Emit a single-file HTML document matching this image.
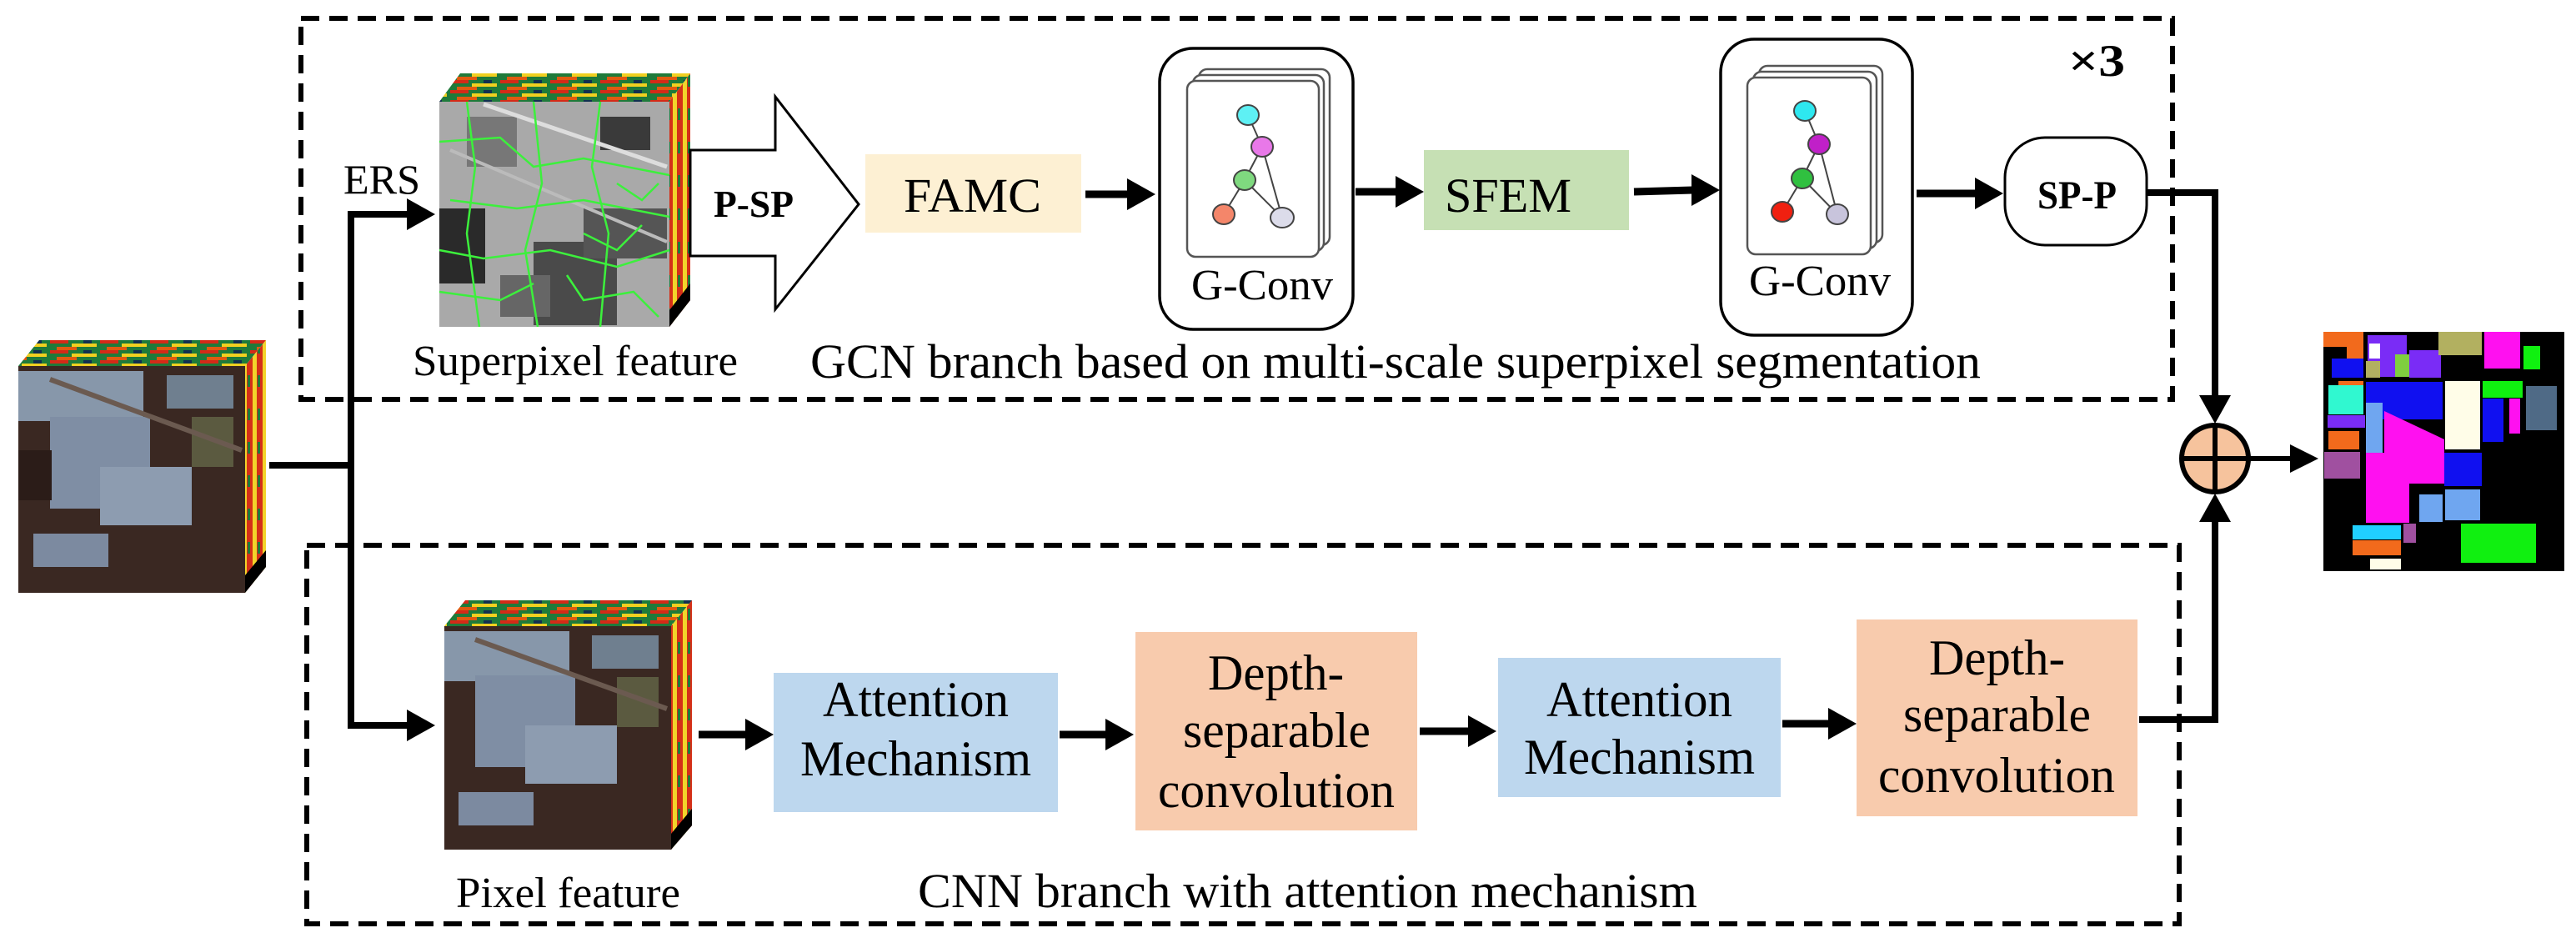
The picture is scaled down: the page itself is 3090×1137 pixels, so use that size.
<!DOCTYPE html>
<html><head><meta charset="utf-8"><style>html,body{margin:0;padding:0;background:#fff;}svg{display:block;}svg text{font-family:"Liberation Serif","DejaVu Serif","Noto Serif CJK SC",serif;}</style></head>
<body>
<svg width="3090" height="1137" viewBox="0 0 3090 1137" xmlns="http://www.w3.org/2000/svg">
<defs>
 <pattern id="hsTop" width="60" height="12" patternUnits="userSpaceOnUse">
  <rect width="60" height="12" fill="#1f7a3a"/>
  <rect x="0" y="0" width="22" height="4" fill="#d42a18"/>
  <rect x="26" y="4" width="30" height="4" fill="#f0d020"/>
  <rect x="8" y="8" width="24" height="4" fill="#e05a10"/>
  <rect x="40" y="0" width="10" height="4" fill="#103050"/>
 </pattern>
 <pattern id="hsSide" width="12" height="40" patternUnits="userSpaceOnUse">
  <rect width="12" height="40" fill="#d43018"/>
  <rect x="3" y="0" width="5" height="40" fill="#f2d42a"/>
  <rect x="9" y="10" width="3" height="14" fill="#1f7a3a"/>
 </pattern>
 <g id="arrowR"><polygon points="0,0 -34,-19 -34,19" fill="#000"/></g>
</defs>

<rect x="361" y="22" width="2245" height="457" fill="none" stroke="#000" stroke-width="6" stroke-dasharray="22,12"/>
<rect x="368" y="654" width="2246" height="454" fill="none" stroke="#000" stroke-width="6" stroke-dasharray="22,12"/>

<polygon points="22,439 47,408 319,408 294,439" fill="url(#hsTop)"/>
<polygon points="294,439 319,408 319,680 294,711" fill="url(#hsSide)"/>
<polygon points="294,690 319,660 319,680 294,711" fill="#000"/>
<rect x="22" y="439" width="272" height="272" fill="#3a2822"/>
<rect x="22" y="445" width="150" height="60" fill="#8797aa"/>
<rect x="60" y="500" width="120" height="110" fill="#7f8ea4"/>
<rect x="120" y="560" width="110" height="70" fill="#8d9cb0"/>
<rect x="200" y="450" width="80" height="40" fill="#6f7f8f"/>
<rect x="230" y="500" width="50" height="60" fill="#5b5a40"/>
<rect x="40" y="640" width="90" height="40" fill="#7c8aa0"/>
<rect x="22" y="540" width="40" height="60" fill="#2b1c18"/>
<line x1="60" y1="455" x2="290" y2="540" stroke="#6b5a50" stroke-width="6"/>

<polygon points="527,122 552,88 828,88 803,122" fill="url(#hsTop)"/>
<polygon points="803,122 828,88 828,360 803,392" fill="url(#hsSide)"/>
<polygon points="803,372 828,340 828,360 803,392" fill="#000"/>
<rect x="527" y="122" width="276" height="270" fill="#a9a9a9"/>
<rect x="527" y="250" width="55" height="90" fill="#2a2a2a"/>
<rect x="640" y="290" width="100" height="100" fill="#4a4a4a"/>
<rect x="700" y="250" width="100" height="60" fill="#555"/>
<rect x="560" y="140" width="60" height="60" fill="#777"/>
<rect x="720" y="140" width="60" height="40" fill="#3a3a3a"/>
<rect x="600" y="330" width="60" height="50" fill="#666"/>
<line x1="580" y1="125" x2="800" y2="200" stroke="#ddd" stroke-width="5"/>
<line x1="540" y1="180" x2="800" y2="290" stroke="#bbb" stroke-width="4"/>
<g stroke="#3cf03c" stroke-width="2.5" fill="none">
 <path d="M527,170 L600,165 L640,200 L700,190 L803,210"/>
 <path d="M540,240 L620,250 L700,240 L803,260"/>
 <path d="M527,300 L580,310 L660,300 L740,320 L803,300"/>
 <path d="M560,122 L570,200 L560,280 L575,392"/>
 <path d="M640,122 L650,220 L630,300 L645,392"/>
 <path d="M720,122 L710,200 L730,280 L720,392"/>
 <path d="M680,330 L700,360 L760,350 L790,380 M700,280 L740,300 L770,270"/>
 <path d="M527,350 L600,360 L640,340 M740,220 L770,240 L790,220"/>
</g>

<polygon points="533,751 558,720 830,720 805,751" fill="url(#hsTop)"/>
<polygon points="805,751 830,720 830,990 805,1019" fill="url(#hsSide)"/>
<polygon points="805,1000 830,970 830,990 805,1019" fill="#000"/>
<rect x="533" y="751" width="272" height="268" fill="#3a2822"/>
<rect x="533" y="757" width="150" height="60" fill="#8797aa"/>
<rect x="570" y="810" width="120" height="110" fill="#7f8ea4"/>
<rect x="630" y="870" width="110" height="70" fill="#8d9cb0"/>
<rect x="710" y="762" width="80" height="40" fill="#6f7f8f"/>
<rect x="740" y="812" width="50" height="60" fill="#5b5a40"/>
<rect x="550" y="950" width="90" height="40" fill="#7c8aa0"/>
<line x1="570" y1="767" x2="800" y2="850" stroke="#6b5a50" stroke-width="6"/>

<g stroke="#000" stroke-width="8" fill="none">
 <polyline points="323,558 421,558"/>
 <polyline points="490,257 421,257 421,870 490,870"/>
</g>
<use href="#arrowR" x="522" y="257"/>
<use href="#arrowR" x="522" y="870"/>
<text x="412" y="232" font-size="50" textLength="92" lengthAdjust="spacingAndGlyphs">ERS</text>

<polygon points="828,180 930,180 930,116 1030,245 930,371 930,307 828,307" fill="#fff" stroke="#000" stroke-width="3"/>
<text x="856" y="260" font-size="46" font-weight="bold" textLength="96" lengthAdjust="spacingAndGlyphs">P-SP</text>
<text x="495" y="450" font-size="52" textLength="390" lengthAdjust="spacingAndGlyphs">Superpixel feature</text>

<rect x="1038" y="185" width="259" height="94" fill="#fdf0d3"/>
<text x="1084" y="254" font-size="58" textLength="165" lengthAdjust="spacingAndGlyphs">FAMC</text>
<line x1="1302" y1="233" x2="1354" y2="233" stroke="#000" stroke-width="9"/>
<use href="#arrowR" x="1386" y="233"/>

<rect x="1391" y="58" width="232" height="337" rx="40" fill="#fff" stroke="#000" stroke-width="3.5"/>
<rect x="1438" y="83" width="157" height="211" rx="10" fill="#fff" stroke="#555" stroke-width="2.5"/>
<rect x="1431" y="90" width="157" height="211" rx="10" fill="#fff" stroke="#555" stroke-width="2.5"/>
<rect x="1424" y="97" width="158" height="211" rx="10" fill="#fff" stroke="#555" stroke-width="2.5"/>
<g stroke="#444" stroke-width="2">
 <line x1="1497" y1="138" x2="1514" y2="176"/><line x1="1514" y1="176" x2="1493" y2="216"/>
 <line x1="1493" y1="216" x2="1468" y2="257"/><line x1="1493" y1="216" x2="1538" y2="261"/>
 <line x1="1514" y1="176" x2="1538" y2="261"/>
 <ellipse cx="1497" cy="138" rx="13" ry="12" fill="#5ef0f4"/>
 <ellipse cx="1514" cy="176" rx="13" ry="12" fill="#e878e8"/>
 <ellipse cx="1493" cy="216" rx="13" ry="12" fill="#7fd97f"/>
 <ellipse cx="1468" cy="257" rx="13" ry="12" fill="#f4866a"/>
 <ellipse cx="1538" cy="261" rx="14" ry="12" fill="#dcdcea"/>
</g>
<text x="1429" y="359" font-size="52" textLength="170" lengthAdjust="spacingAndGlyphs">G-Conv</text>
<line x1="1626" y1="230" x2="1676" y2="230" stroke="#000" stroke-width="9"/>
<use href="#arrowR" x="1708" y="230"/>

<rect x="1708" y="180" width="246" height="96" fill="#c6e0b4"/>
<text x="1733" y="254" font-size="58" textLength="152" lengthAdjust="spacingAndGlyphs">SFEM</text>
<line x1="1960" y1="230" x2="2030" y2="228" stroke="#000" stroke-width="9"/>
<use href="#arrowR" x="2063" y="228"/>

<rect x="2064" y="47" width="230" height="355" rx="40" fill="#fff" stroke="#000" stroke-width="3.5"/>
<rect x="2110" y="79" width="148" height="212" rx="10" fill="#fff" stroke="#555" stroke-width="2.5"/>
<rect x="2103" y="86" width="148" height="212" rx="10" fill="#fff" stroke="#555" stroke-width="2.5"/>
<rect x="2096" y="93" width="148" height="212" rx="10" fill="#fff" stroke="#555" stroke-width="2.5"/>
<g stroke="#444" stroke-width="2">
 <line x1="2165" y1="133" x2="2182" y2="173"/><line x1="2182" y1="173" x2="2162" y2="214"/>
 <line x1="2162" y1="214" x2="2138" y2="254"/><line x1="2162" y1="214" x2="2204" y2="257"/>
 <line x1="2182" y1="173" x2="2204" y2="257"/>
 <ellipse cx="2165" cy="133" rx="13" ry="12" fill="#2ee8f0"/>
 <ellipse cx="2182" cy="173" rx="13" ry="12" fill="#c020c8"/>
 <ellipse cx="2162" cy="214" rx="13" ry="12" fill="#30c040"/>
 <ellipse cx="2138" cy="254" rx="13" ry="12" fill="#f02010"/>
 <ellipse cx="2204" cy="257" rx="13" ry="12" fill="#c8c4dc"/>
</g>
<text x="2098" y="354" font-size="52" textLength="170" lengthAdjust="spacingAndGlyphs">G-Conv</text>
<line x1="2299" y1="232" x2="2370" y2="232" stroke="#000" stroke-width="9"/>
<use href="#arrowR" x="2403" y="232"/>

<rect x="2405" y="165" width="170" height="129" rx="48" fill="#fff" stroke="#000" stroke-width="3"/>
<text x="2444" y="250" font-size="48" font-weight="bold" textLength="95" lengthAdjust="spacingAndGlyphs">SP-P</text>
<text x="2481" y="91" font-size="54" font-weight="bold" textLength="68" lengthAdjust="spacingAndGlyphs">×3</text>

<text x="972" y="453" font-size="58" textLength="1404" lengthAdjust="spacingAndGlyphs">GCN branch based on multi-scale superpixel segmentation</text>

<polyline points="2575,231 2657,231 2657,478" stroke="#000" stroke-width="8" fill="none"/>
<polygon points="2657,508 2638,474 2676,474" fill="#000"/>
<polyline points="2566,863 2657,863 2657,622" stroke="#000" stroke-width="8" fill="none"/>
<polygon points="2657,592 2638,626 2676,626" fill="#000"/>
<ellipse cx="2657" cy="550" rx="40" ry="40" fill="#f6c39d" stroke="#000" stroke-width="6"/>
<line x1="2617" y1="550" x2="2697" y2="550" stroke="#000" stroke-width="6"/>
<line x1="2657" y1="510" x2="2657" y2="590" stroke="#000" stroke-width="6"/>
<line x1="2697" y1="550" x2="2750" y2="550" stroke="#000" stroke-width="6"/>
<polygon points="2781,550 2747,533 2747,567" fill="#000"/>

<rect x="2787" y="398" width="289" height="287" fill="#000"/>
<rect x="2787" y="398" width="47" height="18" fill="#f26a1c"/>
<rect x="2815" y="398" width="20" height="35" fill="#f26a1c"/>
<rect x="2840" y="402" width="47" height="50" fill="#7a2cf6"/>
<rect x="2842" y="412" width="13" height="18" fill="#fff"/>
<rect x="2838" y="433" width="17" height="20" fill="#b2b060"/>
<rect x="2873" y="425" width="17" height="27" fill="#7fcf3f"/>
<rect x="2890" y="420" width="38" height="33" fill="#7a2cf6"/>
<rect x="2925" y="398" width="52" height="28" fill="#b2b060"/>
<rect x="2980" y="398" width="43" height="44" fill="#ff10f0"/>
<rect x="3027" y="415" width="20" height="28" fill="#10f010"/>
<rect x="2797" y="430" width="38" height="23" fill="#1010f0"/>
<rect x="2805" y="457" width="30" height="17" fill="#f26a1c"/>
<rect x="2793" y="462" width="42" height="35" fill="#30f8d0"/>
<rect x="2838" y="458" width="92" height="45" fill="#1010f0"/>
<rect x="2933" y="457" width="42" height="82" fill="#fffde8"/>
<rect x="2978" y="457" width="48" height="20" fill="#10f010"/>
<rect x="2978" y="478" width="25" height="52" fill="#1010f0"/>
<rect x="3010" y="478" width="13" height="42" fill="#ff10f0"/>
<rect x="3030" y="463" width="37" height="53" fill="#4f6a86"/>
<rect x="2792" y="498" width="45" height="15" fill="#7a2cf6"/>
<rect x="2793" y="517" width="37" height="22" fill="#f26a1c"/>
<rect x="2838" y="483" width="20" height="60" fill="#6fa6f0"/>
<polygon points="2860,493 2932,527 2932,580 2890,580 2890,627 2838,627 2838,543 2860,543" fill="#ff10f0"/>
<rect x="2788" y="542" width="43" height="32" fill="#a050a0"/>
<rect x="2932" y="543" width="45" height="40" fill="#1010f0"/>
<rect x="2902" y="593" width="28" height="33" fill="#6fa6f0"/>
<rect x="2933" y="587" width="42" height="37" fill="#6fa6f0"/>
<rect x="2952" y="628" width="90" height="47" fill="#10f010"/>
<rect x="2822" y="630" width="58" height="17" fill="#20d0ff"/>
<rect x="2883" y="628" width="15" height="23" fill="#a050a0"/>
<rect x="2822" y="648" width="58" height="18" fill="#f26a1c"/>
<rect x="2843" y="670" width="37" height="13" fill="#fffde8"/>

<line x1="838" y1="881" x2="896" y2="881" stroke="#000" stroke-width="9"/>
<use href="#arrowR" x="928" y="881"/>
<rect x="928" y="807" width="341" height="167" fill="#bdd7ee"/>
<text x="987" y="859" font-size="60" textLength="223" lengthAdjust="spacingAndGlyphs">Attention</text>
<text x="960" y="930" font-size="60" textLength="277" lengthAdjust="spacingAndGlyphs">Mechanism</text>
<line x1="1271" y1="881" x2="1328" y2="881" stroke="#000" stroke-width="9"/>
<use href="#arrowR" x="1360" y="881"/>
<rect x="1362" y="758" width="338" height="238" fill="#f8cbad"/>
<text x="1449" y="827" font-size="60" textLength="163" lengthAdjust="spacingAndGlyphs">Depth-</text>
<text x="1419" y="896" font-size="60" textLength="225" lengthAdjust="spacingAndGlyphs">separable</text>
<text x="1389" y="968" font-size="60" textLength="284" lengthAdjust="spacingAndGlyphs">convolution</text>
<line x1="1703" y1="877" x2="1762" y2="877" stroke="#000" stroke-width="9"/>
<use href="#arrowR" x="1795" y="877"/>
<rect x="1797" y="789" width="339" height="167" fill="#bdd7ee"/>
<text x="1855" y="859" font-size="60" textLength="223" lengthAdjust="spacingAndGlyphs">Attention</text>
<text x="1828" y="928" font-size="60" textLength="277" lengthAdjust="spacingAndGlyphs">Mechanism</text>
<line x1="2138" y1="868" x2="2195" y2="868" stroke="#000" stroke-width="9"/>
<use href="#arrowR" x="2227" y="868"/>
<rect x="2227" y="743" width="337" height="236" fill="#f8cbad"/>
<text x="2314" y="809" font-size="60" textLength="163" lengthAdjust="spacingAndGlyphs">Depth-</text>
<text x="2283" y="877" font-size="60" textLength="225" lengthAdjust="spacingAndGlyphs">separable</text>
<text x="2253" y="950" font-size="60" textLength="284" lengthAdjust="spacingAndGlyphs">convolution</text>

<text x="547" y="1088" font-size="52" textLength="269" lengthAdjust="spacingAndGlyphs">Pixel feature</text>
<text x="1101" y="1088" font-size="58" textLength="935" lengthAdjust="spacingAndGlyphs">CNN branch with attention mechanism</text>
</svg>
</body></html>
